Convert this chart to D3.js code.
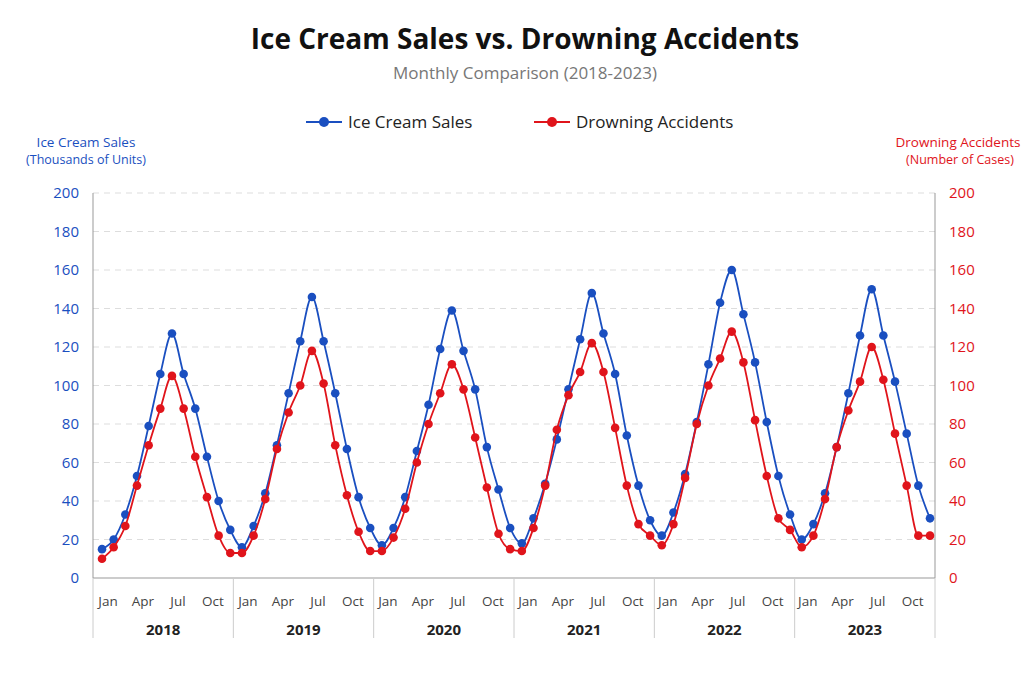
<!DOCTYPE html><html><head><meta charset="utf-8">
<script src="https://cdn.jsdelivr.net/npm/d3@7"></script>
<style>body{margin:0;background:#fff;font-family:"Open Sans",sans-serif}</style></head><body>
<svg id="c" width="1024" height="683"></svg>
<script>
const years=["2018","2019","2020","2021","2022","2023"];
const months=["Jan","Feb","Mar","Apr","May","Jun","Jul","Aug","Sep","Oct","Nov","Dec"];
const monthTickLabels=["Jan","Apr","Jul","Oct"];
const yTicks=[0,20,40,60,80,100,120,140,160,180,200];
const iceCream=[15,20,33,53,79,106,127,106,88,63,40,25,
 16,27,44,69,96,123,146,123,96,67,42,26,
 17,26,42,66,90,119,139,118,98,68,46,26,
 18,31,49,72,98,124,148,127,106,74,48,30,
 22,34,54,81,111,143,160,137,112,81,53,33,
 20,28,44,68,96,126,150,126,102,75,48,31];
const drowning=[10,16,27,48,69,88,105,88,63,42,22,13,
 13,22,41,67,86,100,118,101,69,43,24,14,
 14,21,36,60,80,96,111,98,73,47,23,15,
 14,26,48,77,95,107,122,107,78,48,28,22,
 17,28,52,80,100,114,128,112,82,53,31,25,
 16,22,41,68,87,102,120,103,75,48,22,22];
const blue="#1a4fc0", red="#e0141b";
const svg=d3.select("#c");
const L=93,R=935,T=193,B=578;
const idx=d3.range(iceCream.length);
const yw=(R-L)/years.length;
const x=d3.scalePoint().domain(idx).range([L+9,R-5]);
const cx=i=>x(i);
const yL=d3.scaleLinear().domain([0,200]).range([B,T]);
const yR=d3.scaleLinear().domain([0,200]).range([B,T]);
svg.append("g").selectAll("line").data(yTicks.slice(1)).join("line")
 .attr("x1",L).attr("x2",R).attr("y1",d=>yL(d)).attr("y2",d=>yL(d))
 .attr("stroke","#ddd").attr("stroke-dasharray","6,5");
svg.append("line").attr("x1",L).attr("x2",L).attr("y1",T).attr("y2",B).attr("stroke","#999");
svg.append("line").attr("x1",R).attr("x2",R).attr("y1",T).attr("y2",B).attr("stroke","#999");
svg.append("line").attr("x1",L).attr("x2",R).attr("y1",B).attr("y2",B).attr("stroke","#999");
const la=svg.append("g").attr("transform",`translate(${L},0)`).call(d3.axisLeft(yL).tickValues(yTicks).tickSize(0).tickPadding(14));
la.select(".domain").remove();
la.selectAll("text").attr("fill",blue).style("font-size","15px").style("font-family","Open Sans");
const ra=svg.append("g").attr("transform",`translate(${R},0)`).call(d3.axisRight(yR).tickValues(yTicks).tickSize(0).tickPadding(14));
ra.select(".domain").remove();
ra.selectAll("text").attr("fill",red).style("font-size","15px").style("font-family","Open Sans");
const ml=svg.append("g");
idx.filter(i=>monthTickLabels.includes(months[i%12])).forEach(i=>{
 ml.append("text").attr("x",cx(i)+6).attr("y",606).attr("text-anchor","middle").attr("fill","#444").style("font-size","13.5px").text(months[i%12]);
});
years.forEach((yr,k)=>{
 const x0=L+k*yw, x1=x0+yw;
 svg.append("text").attr("x",(x0+x1)/2).attr("y",635).attr("text-anchor","middle").attr("font-weight","bold").attr("fill","#222").style("font-size","15px").text(yr);
 svg.append("line").attr("x1",x0).attr("x2",x0).attr("y1",B).attr("y2",638).attr("stroke","#ccc");
 if(k===years.length-1) svg.append("line").attr("x1",x1).attr("x2",x1).attr("y1",B).attr("y2",638).attr("stroke","#ccc");
});
function series(data,col,y){
 svg.append("path").datum(data).attr("fill","none").attr("stroke",col).attr("stroke-width",1.8)
  .attr("d",d3.line().x((d,i)=>cx(i)).y(d=>y(d)).curve(d3.curveMonotoneX));
 svg.append("g").selectAll("circle").data(data).join("circle").attr("cx",(d,i)=>cx(i)).attr("cy",d=>y(d)).attr("r",4.3).attr("fill",col);
}
series(iceCream,blue,yL);
series(drowning,red,yR);
svg.append("text").attr("x",525).attr("y",49).attr("text-anchor","middle").attr("font-weight","bold").attr("fill","#111").style("font-size","28px").text("Ice Cream Sales vs. Drowning Accidents");
svg.append("text").attr("x",525).attr("y",79).attr("text-anchor","middle").attr("fill","#777").style("font-size","17px").text("Monthly Comparison (2018-2023)");
[[306,"Ice Cream Sales",blue],[534,"Drowning Accidents",red]].forEach(([lx,t,c])=>{
 svg.append("line").attr("x1",lx).attr("x2",lx+36).attr("y1",122).attr("y2",122).attr("stroke",c).attr("stroke-width",2);
 svg.append("circle").attr("cx",lx+18).attr("cy",122).attr("r",5).attr("fill",c);
 svg.append("text").attr("x",lx+42).attr("y",128).attr("fill","#222").style("font-size","17px").text(t);
});
svg.append("text").attr("x",86).attr("y",147).attr("text-anchor","middle").attr("fill",blue).style("font-size","13.5px").text("Ice Cream Sales");
svg.append("text").attr("x",86).attr("y",164).attr("text-anchor","middle").attr("fill",blue).style("font-size","12.5px").text("(Thousands of Units)");
svg.append("text").attr("x",958).attr("y",147).attr("text-anchor","middle").attr("fill",red).style("font-size","13.5px").text("Drowning Accidents");
svg.append("text").attr("x",960).attr("y",164).attr("text-anchor","middle").attr("fill",red).style("font-size","12.5px").text("(Number of Cases)");
</script></body></html>
